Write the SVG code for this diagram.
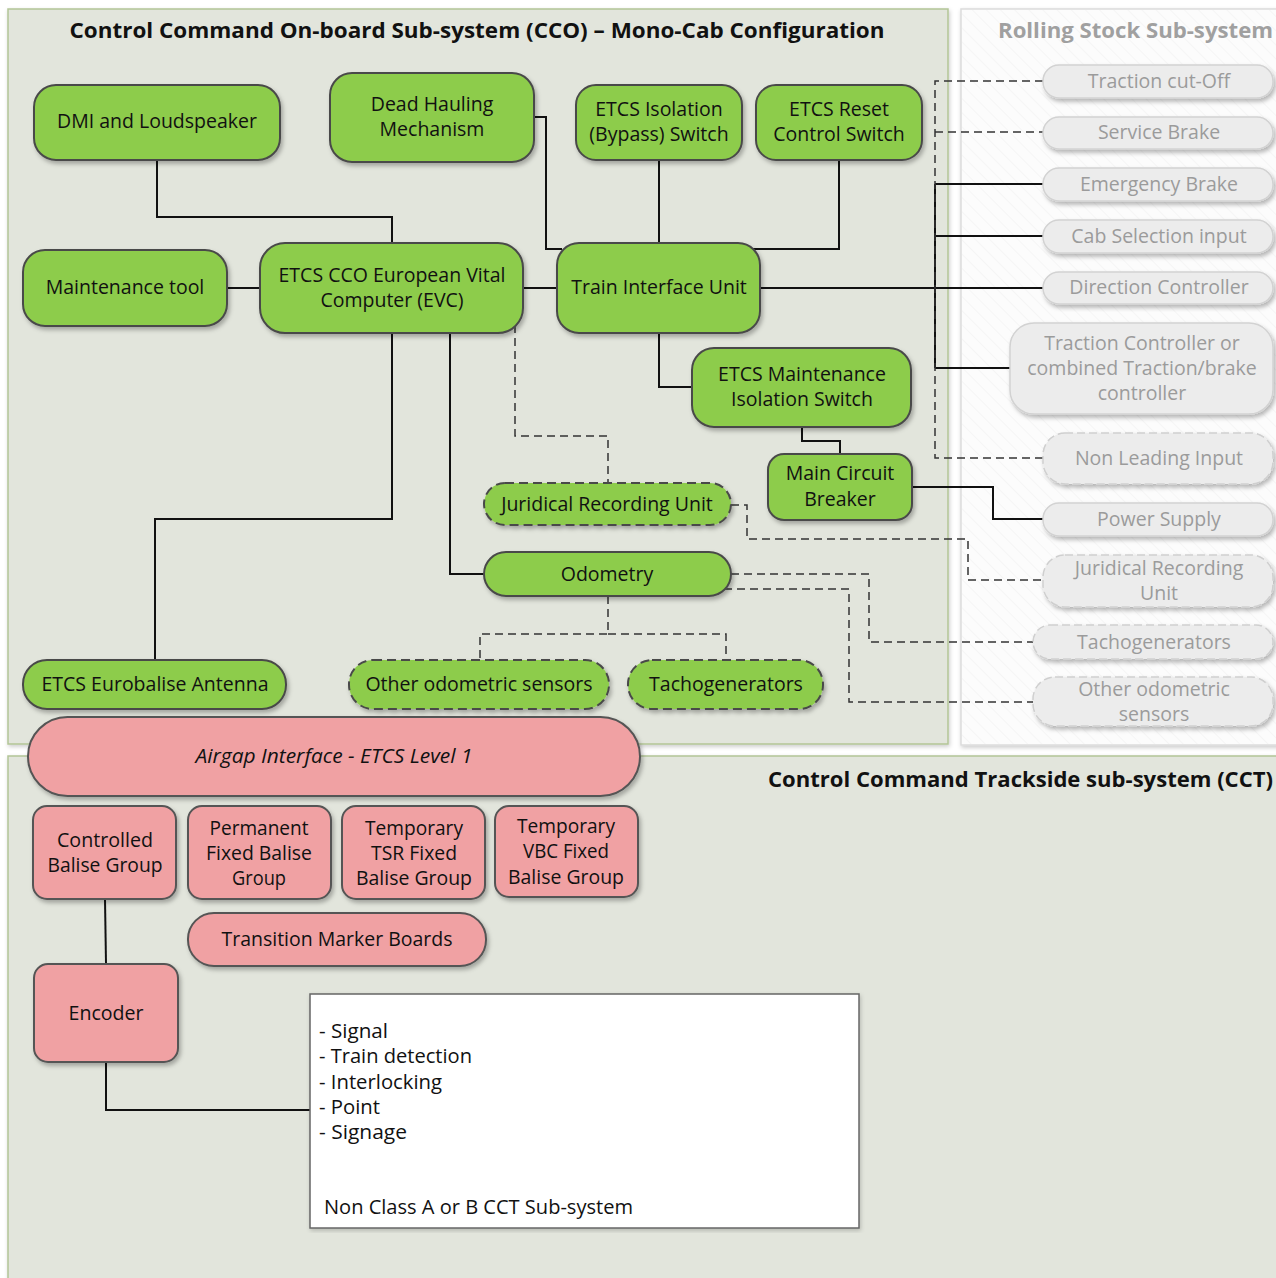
<svg xmlns="http://www.w3.org/2000/svg" width="1276" height="1278" viewBox="0 0 1276 1278">
<defs>
<filter id="sh" x="-10%" y="-15%" width="125%" height="140%"><feDropShadow dx="2" dy="3" stdDeviation="2" flood-color="#000" flood-opacity="0.28"/></filter>
<filter id="shc" x="-2%" y="-2%" width="104%" height="104%"><feDropShadow dx="1" dy="2" stdDeviation="2" flood-color="#000" flood-opacity="0.2"/></filter>
<pattern id="hatch" width="10" height="10" patternUnits="userSpaceOnUse" patternTransform="rotate(-45)"><line x1="0" y1="0" x2="0" y2="10" stroke="#e9e9e9" stroke-width="1.2"/></pattern>
<style>
.ct{fill:#e2e5dc;stroke:#b3c596;stroke-width:1.5}
.g{fill:#8dcc4c;stroke:#4a4a4a;stroke-width:2;filter:url(#sh)}
.gd{fill:#8dcc4c;stroke:#4a4a4a;stroke-width:2;stroke-dasharray:9,5;filter:url(#sh)}
.p{fill:#f0a1a3;stroke:#555;stroke-width:2;filter:url(#sh)}
.r{fill:#ececec;stroke:#d2d2d2;stroke-width:1.5;filter:url(#sh)}
.rd{fill:#ececec;stroke:#cfcfcf;stroke-width:1.5;stroke-dasharray:8,4;filter:url(#sh)}
text{font-family:"Open Sans","Noto Sans","DejaVu Sans",sans-serif;fill:#111}
.t{font-size:19.5px;text-anchor:middle}
.tp{font-size:20px;text-anchor:middle}
.tr{font-size:19.5px;text-anchor:middle;fill:#9b9b9b}
.h{font-size:21px;font-weight:bold}
.w{font-size:20px}
.s{fill:none;stroke:#111;stroke-width:2}
.d{fill:none;stroke:#333;stroke-width:1.5;stroke-dasharray:8,5}
</style>
</defs>
<rect width="1276" height="1278" fill="#ffffff"/>

<g id="cco-container">
<rect class="ct" x="8" y="9" width="940" height="735" filter="url(#shc)"/>
<text class="h" x="477" y="38" text-anchor="middle" textLength="815" lengthAdjust="spacingAndGlyphs">Control Command On-board Sub-system (CCO) – Mono-Cab Configuration</text>
</g>
<g id="rs-container">
<rect x="961" y="9" width="320" height="736" fill="#fcfcfc" stroke="#dcdcdc" stroke-width="1.5" filter="url(#shc)"/>
<rect x="962" y="10" width="318" height="734" fill="url(#hatch)" opacity="0.6"/>
<text class="h" x="1273" y="38" text-anchor="end" style="fill:#a0a0a0" textLength="275" lengthAdjust="spacingAndGlyphs">Rolling Stock Sub-system</text>
</g>
<g id="cct-container">
<rect class="ct" x="8" y="756" width="1278" height="530" filter="url(#shc)"/>
<text class="h" x="1273" y="787" text-anchor="end" textLength="505" lengthAdjust="spacingAndGlyphs">Control Command Trackside sub-system (CCT)</text>
</g>

<g id="connectors">
<polyline class="s" points="157,160 157,217 392,217 392,243"/>
<line class="s" x1="227" y1="288" x2="260" y2="288"/>
<line class="s" x1="523" y1="288" x2="557" y2="288"/>
<polyline class="s" points="534,117 546,117 546,249 562,249"/>
<line class="s" x1="659" y1="160" x2="659" y2="243"/>
<polyline class="s" points="839,160 839,249 752,249"/>
<line class="s" x1="760" y1="288" x2="1043" y2="288" stroke-width="2.5"/>
<line class="s" x1="935" y1="184" x2="935" y2="368"/>
<line class="s" x1="935" y1="184" x2="1043" y2="184"/>
<line class="s" x1="935" y1="236" x2="1043" y2="236"/>
<line class="s" x1="935" y1="368" x2="1010" y2="368"/>
<polyline class="d" points="1043,81 935,81 935,458 1043,458"/>
<line class="d" x1="935" y1="132" x2="1043" y2="132"/>
<polyline class="s" points="659,333 659,387 692,387"/>
<polyline class="s" points="802,427 802,441 840,441 840,454"/>
<polyline class="s" points="912,487 993,487 993,519 1043,519"/>
<polyline class="s" points="392,333 392,519 155,519 155,660"/>
<polyline class="s" points="450,333 450,574 484,574"/>
<polyline class="d" points="515,325 515,436 608,436 608,483"/>
<polyline class="d" points="731,505 747,505 747,539 968,539 968,580 1043,580"/>
<polyline class="d" points="731,574 869,574 869,642 1033,642"/>
<polyline class="d" points="724,589 849,589 849,702 1033,702"/>
<polyline class="d" points="608,596 608,634 480,634 480,660"/>
<polyline class="d" points="608,634 726,634 726,660"/>
<line class="s" x1="105" y1="899" x2="106" y2="964"/>
<polyline class="s" points="106,1062 106,1110 310,1110"/>
</g>

<g id="dmi"><rect class="g" x="34" y="85" width="246" height="75" rx="22"/><text class="t" x="157" y="128">DMI and Loudspeaker</text></g>
<g id="dead-hauling"><rect class="g" x="330" y="73" width="204" height="89" rx="22"/><text class="t" x="432" y="111">Dead Hauling</text><text class="t" x="432" y="136">Mechanism</text></g>
<g id="etcs-isolation"><rect class="g" x="576" y="85" width="166" height="75" rx="20"/><text class="t" x="659" y="116">ETCS Isolation</text><text class="t" x="659" y="141">(Bypass) Switch</text></g>
<g id="etcs-reset"><rect class="g" x="756" y="85" width="166" height="75" rx="20"/><text class="t" x="839" y="116">ETCS Reset</text><text class="t" x="839" y="141">Control Switch</text></g>
<g id="maintenance-tool"><rect class="g" x="23" y="250" width="204" height="76" rx="22"/><text class="t" x="125" y="294">Maintenance tool</text></g>
<g id="evc"><rect class="g" x="260" y="243" width="263" height="90" rx="25"/><text class="t" x="392" y="282">ETCS CCO European Vital</text><text class="t" x="392" y="307">Computer (EVC)</text></g>
<g id="tiu"><rect class="g" x="557" y="243" width="203" height="90" rx="22"/><text class="t" x="659" y="294">Train Interface Unit</text></g>
<g id="etcs-maint-iso"><rect class="g" x="692" y="348" width="219" height="79" rx="22"/><text class="t" x="802" y="381">ETCS Maintenance</text><text class="t" x="802" y="406">Isolation Switch</text></g>
<g id="mcb"><rect class="g" x="768" y="454" width="144" height="66" rx="16"/><text class="t" x="840" y="480">Main Circuit</text><text class="t" x="840" y="506">Breaker</text></g>
<g id="jru"><rect class="gd" x="484" y="483" width="247" height="42" rx="21"/><text class="t" x="607" y="511">Juridical Recording Unit</text></g>
<g id="odometry"><rect class="g" x="484" y="552" width="247" height="44" rx="22"/><text class="t" x="607" y="581">Odometry</text></g>
<g id="eurobalise"><rect class="g" x="23" y="660" width="263" height="49" rx="24"/><text class="t" x="155" y="691">ETCS Eurobalise Antenna</text></g>
<g id="other-odo"><rect class="gd" x="349" y="660" width="260" height="49" rx="24"/><text class="t" x="479" y="691">Other odometric sensors</text></g>
<g id="tacho"><rect class="gd" x="628" y="660" width="195" height="49" rx="24"/><text class="t" x="726" y="691">Tachogenerators</text></g>

<g id="rs-traction-cutoff"><rect class="r" x="1043" y="65" width="230" height="33" rx="16"/><text class="tr" x="1159" y="88">Traction cut-Off</text></g>
<g id="rs-service-brake"><rect class="r" x="1043" y="117" width="230" height="32" rx="16"/><text class="tr" x="1159" y="139">Service Brake</text></g>
<g id="rs-emergency-brake"><rect class="r" x="1043" y="168" width="230" height="33" rx="16"/><text class="tr" x="1159" y="191">Emergency Brake</text></g>
<g id="rs-cab-selection"><rect class="r" x="1043" y="220" width="230" height="33" rx="16"/><text class="tr" x="1159" y="243">Cab Selection input</text></g>
<g id="rs-direction"><rect class="r" x="1043" y="272" width="230" height="32" rx="16"/><text class="tr" x="1159" y="294">Direction Controller</text></g>
<g id="rs-traction-controller"><rect class="r" x="1010" y="323" width="263" height="91" rx="24"/><text class="tr" x="1142" y="350">Traction Controller or</text><text class="tr" x="1142" y="375">combined Traction/brake</text><text class="tr" x="1142" y="400">controller</text></g>
<g id="rs-non-leading"><rect class="rd" x="1043" y="433" width="230" height="51" rx="22"/><text class="tr" x="1159" y="465">Non Leading Input</text></g>
<g id="rs-power"><rect class="r" x="1043" y="503" width="230" height="33" rx="16"/><text class="tr" x="1159" y="526">Power Supply</text></g>
<g id="rs-jru"><rect class="rd" x="1043" y="555" width="230" height="52" rx="22"/><text class="tr" x="1159" y="575">Juridical Recording</text><text class="tr" x="1159" y="600">Unit</text></g>
<g id="rs-tacho"><rect class="rd" x="1033" y="625" width="240" height="34" rx="17"/><text class="tr" x="1154" y="649">Tachogenerators</text></g>
<g id="rs-other-odo"><rect class="rd" x="1033" y="677" width="240" height="49" rx="22"/><text class="tr" x="1154" y="696">Other odometric</text><text class="tr" x="1154" y="721">sensors</text></g>

<g id="airgap"><rect class="p" x="28" y="717" width="612" height="79" rx="39.5"/><text class="tp" x="334" y="763" font-style="italic" textLength="277" lengthAdjust="spacingAndGlyphs">Airgap Interface - ETCS Level 1</text></g>
<g id="controlled-bg"><rect class="p" x="33" y="806" width="143" height="93" rx="14"/><text class="tp" x="105" y="847" textLength="96" lengthAdjust="spacingAndGlyphs">Controlled</text><text class="tp" x="105" y="872" textLength="115" lengthAdjust="spacingAndGlyphs">Balise Group</text></g>
<g id="permanent-bg"><rect class="p" x="188" y="806" width="143" height="93" rx="14"/><text class="tp" x="259" y="835" textLength="99" lengthAdjust="spacingAndGlyphs">Permanent</text><text class="tp" x="259" y="860" textLength="106" lengthAdjust="spacingAndGlyphs">Fixed Balise</text><text class="tp" x="259" y="885" textLength="54" lengthAdjust="spacingAndGlyphs">Group</text></g>
<g id="tsr-bg"><rect class="p" x="342" y="806" width="143" height="93" rx="14"/><text class="tp" x="414" y="835" textLength="98" lengthAdjust="spacingAndGlyphs">Temporary</text><text class="tp" x="414" y="860" textLength="86" lengthAdjust="spacingAndGlyphs">TSR Fixed</text><text class="tp" x="414" y="885" textLength="116" lengthAdjust="spacingAndGlyphs">Balise Group</text></g>
<g id="vbc-bg"><rect class="p" x="495" y="806" width="143" height="91" rx="14"/><text class="tp" x="566" y="833" textLength="98" lengthAdjust="spacingAndGlyphs">Temporary</text><text class="tp" x="566" y="858" textLength="86" lengthAdjust="spacingAndGlyphs">VBC Fixed</text><text class="tp" x="566" y="884" textLength="116" lengthAdjust="spacingAndGlyphs">Balise Group</text></g>
<g id="tmb"><rect class="p" x="188" y="913" width="298" height="53" rx="26"/><text class="tp" x="337" y="946" textLength="231" lengthAdjust="spacingAndGlyphs">Transition Marker Boards</text></g>
<g id="encoder"><rect class="p" x="34" y="964" width="144" height="98" rx="14"/><text class="tp" x="106" y="1020" textLength="75" lengthAdjust="spacingAndGlyphs">Encoder</text></g>

<g id="non-class-ab">
<rect x="310" y="994" width="549" height="234" fill="#ffffff" stroke="#666" stroke-width="1.5" filter="url(#shc)"/>
<text class="w" x="319" y="1038" textLength="69" lengthAdjust="spacingAndGlyphs">- Signal</text>
<text class="w" x="319" y="1063" textLength="153" lengthAdjust="spacingAndGlyphs">- Train detection</text>
<text class="w" x="319" y="1089" textLength="123" lengthAdjust="spacingAndGlyphs">- Interlocking</text>
<text class="w" x="319" y="1114" textLength="61" lengthAdjust="spacingAndGlyphs">- Point</text>
<text class="w" x="319" y="1139" textLength="88" lengthAdjust="spacingAndGlyphs">- Signage</text>
<text class="w" x="324" y="1214" textLength="309" lengthAdjust="spacingAndGlyphs">Non Class A or B CCT Sub-system</text>
</g>
</svg>
